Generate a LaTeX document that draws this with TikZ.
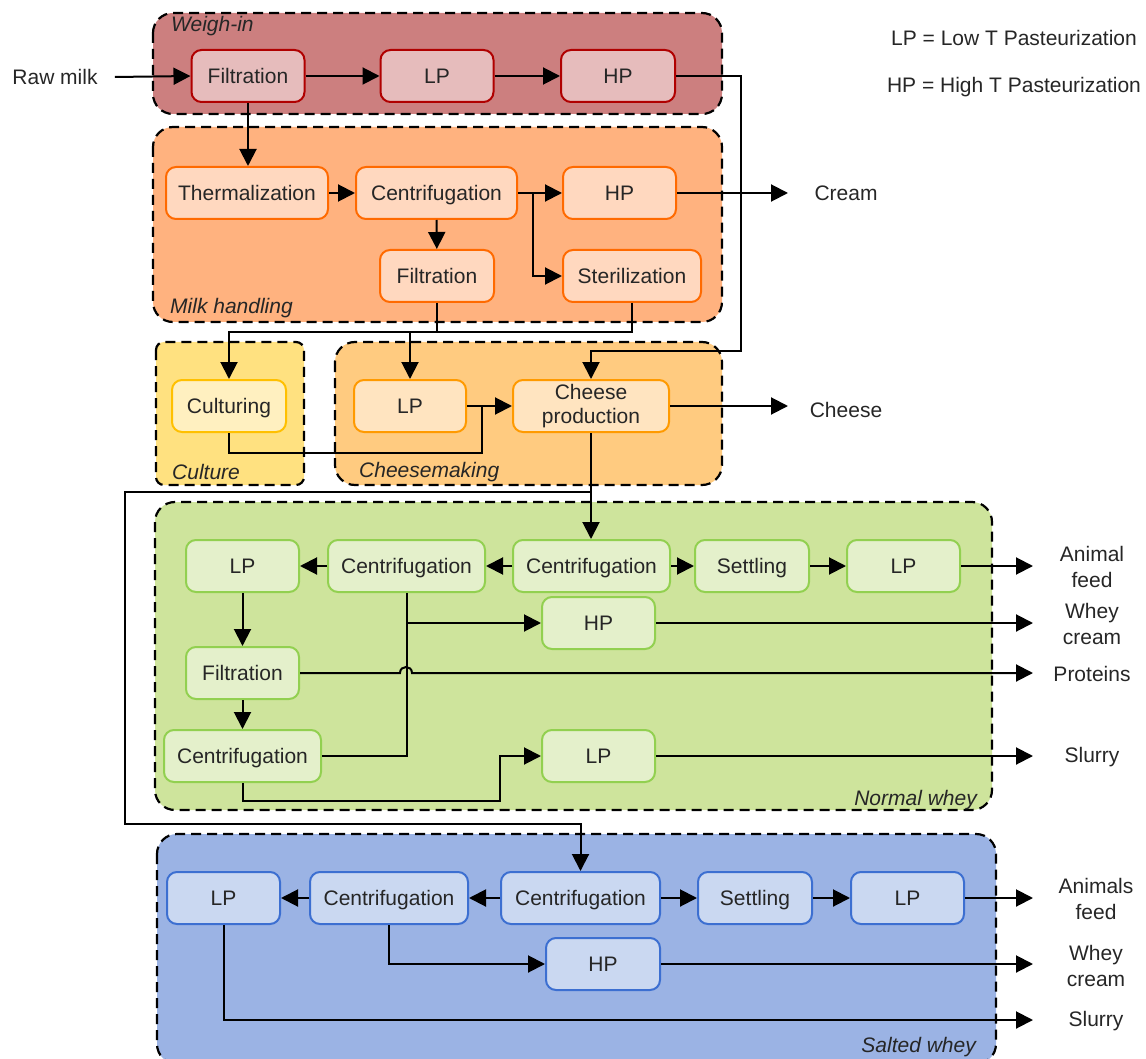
\documentclass[tikz,border=0pt]{standalone}
\usepackage{fontspec}
\setmainfont{Liberation Sans}
\usetikzlibrary{arrows.meta,calc}

% group and step colours
\definecolor{weighFill}{HTML}{CC7F7F}
\definecolor{weighNode}{HTML}{E6BCBC}
\definecolor{weighLine}{HTML}{B00000}
\definecolor{milkFill}{HTML}{FFB27F}
\definecolor{milkNode}{HTML}{FFD8BF}
\definecolor{milkLine}{HTML}{FF6A00}
\definecolor{cultFill}{HTML}{FFE180}
\definecolor{cultNode}{HTML}{FFF0C0}
\definecolor{cultLine}{HTML}{FFC000}
\definecolor{cheeseFill}{HTML}{FFCB80}
\definecolor{cheeseNode}{HTML}{FFE4C0}
\definecolor{cheeseLine}{HTML}{FF9A00}
\definecolor{normFill}{HTML}{CEE49C}
\definecolor{normNode}{HTML}{E4F0CB}
\definecolor{normLine}{HTML}{92D050}
\definecolor{saltFill}{HTML}{9BB3E4}
\definecolor{saltNode}{HTML}{CAD8F1}
\definecolor{saltLine}{HTML}{3C6FD1}
\definecolor{ink}{HTML}{262626}

\begin{document}
\begin{tikzpicture}[x=1pt,y=-1pt,
  font=\fontsize{21}{24}\selectfont,
  grp/.style={draw=black,line width=2.2pt,dash pattern=on 10pt off 6pt,rounded corners=20pt},
  box/.style={rectangle,rounded corners=10pt,line width=2pt,minimum height=52pt,
              inner sep=2pt,text=ink,align=center,text height=15pt,text depth=0pt},
  wbox/.style={box,fill=weighNode,draw=weighLine},
  mbox/.style={box,fill=milkNode,draw=milkLine},
  cbox/.style={box,fill=cultNode,draw=cultLine},
  kbox/.style={box,fill=cheeseNode,draw=cheeseLine},
  nbox/.style={box,fill=normNode,draw=normLine},
  sbox/.style={box,fill=saltNode,draw=saltLine},
  lbl/.style={text=ink,align=center,inner sep=0pt},
  glbl/.style={text=ink,inner sep=0pt,font=\fontsize{21}{24}\selectfont\itshape},
  arr/.style={line width=2pt,-{Triangle[length=17pt,width=17pt]}},
  ln/.style={line width=2pt}]

\useasboundingbox (0,0) rectangle (1146,1059);

% ---- process groups ----
\draw[grp,fill=weighFill] (153,13) rectangle (722,114);
\draw[grp,fill=milkFill] (153,127) rectangle (722,322);
\draw[grp,fill=cultFill,rounded corners=8pt] (156,342) rectangle (304,485);
\draw[grp,fill=cheeseFill] (335,342) rectangle (722,485);
\draw[grp,fill=normFill] (155,502) rectangle (992,810);
\draw[grp,fill=saltFill] (157,834) rectangle (996,1064);

\node[glbl,anchor=west] (gWeigh) at (171,26) {Weigh-in};
\node[glbl,anchor=west] (gMilk) at (170,308) {Milk handling};
\node[glbl,anchor=west] (gCult) at (172,472) {Culture};
\node[glbl,anchor=west] (gCheese) at (359,472) {Cheesemaking};
\node[glbl,anchor=east] (gNorm) at (977,800) {Normal whey};
\node[glbl,anchor=east] (gSalt) at (976,1047) {Salted whey};

% ---- legend ----
\node[lbl] (legLP) at (1014,38) {LP = Low T Pasteurization};
\node[lbl] (legHP) at (1014,87) {HP = High T Pasteurization};

% ---- weigh-in ----
\node[lbl] (raw) at (55,77) {Raw milk};
\node[wbox,minimum width=113pt] (wf) at (248,76) {Filtration};
\node[wbox,minimum width=113pt] (wlp) at (437,76) {LP};
\node[wbox,minimum width=114pt] (whp) at (618,76) {HP};

% ---- milk handling ----
\node[mbox,minimum width=162pt] (mth) at (247,193) {Thermalization};
\node[mbox,minimum width=161pt] (mce) at (436.5,193) {Centrifugation};
\node[mbox,minimum width=113pt] (mhp) at (619.5,193) {HP};
\node[mbox,minimum width=114pt] (mfi) at (437,276) {Filtration};
\node[mbox,minimum width=138pt] (mst) at (632,276) {Sterilization};
\node[lbl] (cream) at (846,193) {Cream};

% ---- culture and cheesemaking ----
\node[cbox,minimum width=114pt] (cul) at (229,406) {Culturing};
\node[kbox,minimum width=156pt] (cpr) at (591,406) {};
\node[lbl] (cprTxt) at (cpr.center) {Cheese\\production};
\node[kbox,minimum width=112pt] (clp) at (410,406) {LP};
\node[lbl] (cheese) at (846,410) {Cheese};

% ---- normal whey ----
\node[nbox,minimum width=113pt] (nlp1) at (242.5,566) {LP};
\node[nbox,minimum width=157pt] (nce2) at (406.5,566) {Centrifugation};
\node[nbox,minimum width=157pt] (nce1) at (591.5,566) {Centrifugation};
\node[nbox,minimum width=114pt] (nse) at (752,566) {Settling};
\node[nbox,minimum width=113pt] (nlp2) at (903.5,566) {LP};
\node[nbox,minimum width=113pt] (nhp) at (598.5,623) {HP};
\node[nbox,minimum width=113pt] (nfi) at (242.5,673) {Filtration};
\node[nbox,minimum width=157pt] (nce3) at (242.5,756) {Centrifugation};
\node[nbox,minimum width=113pt] (nlp3) at (598.5,756) {LP};

\node[lbl,font=\fontsize{21}{26}\selectfont] (nFeed) at (1092,567) {Animal\\feed};
\node[lbl,font=\fontsize{21}{26}\selectfont] (nCream) at (1092,624) {Whey\\cream};
\node[lbl] (nProt) at (1092,674) {Proteins};
\node[lbl] (nSlur) at (1092,757) {Slurry};

% ---- salted whey ----
\node[sbox,minimum width=113pt] (slp1) at (223.5,898) {LP};
\node[sbox,minimum width=158pt] (sce2) at (389,898) {Centrifugation};
\node[sbox,minimum width=159pt] (sce1) at (580.5,898) {Centrifugation};
\node[sbox,minimum width=114pt] (sse) at (755,898) {Settling};
\node[sbox,minimum width=113pt] (slp2) at (907.5,898) {LP};
\node[sbox,minimum width=114pt] (shp) at (603,964) {HP};

\node[lbl,font=\fontsize{21}{26}\selectfont] (sFeed) at (1096,899) {Animals\\feed};
\node[lbl,font=\fontsize{21}{26}\selectfont] (sCream) at (1096,966) {Whey\\cream};
\node[lbl] (sSlur) at (1096,1021) {Slurry};

% free ends of the output arrows
\coordinate (oCream) at (788,193);
\coordinate (oCheese) at (788,406);
\coordinate (oNFeed) at (1033,566);
\coordinate (oNCream) at (1033,623);
\coordinate (oNProt) at (1033,673);
\coordinate (oNSlur) at (1033,756);
\coordinate (oSFeed) at (1033,898);
\coordinate (oSCream) at (1033,964);
\coordinate (oSSlur) at (1033,1020);

% ---- connectors: weigh-in ----
\draw[arr] ([xshift=17pt]raw.east) -- (wf.west);
\draw[arr] (wf) -- (wlp);
\draw[arr] (wlp) -- (whp);
\draw[arr] (whp.east) -| (741,351) -| (cpr.north);
\draw[arr] (wf.south) -- (wf.south |- mth.north);

% ---- connectors: milk handling ----
\draw[arr] (mth) -- (mce);
\draw[arr] (mce) -- (mhp);
\draw[arr] (mce.east) -- ++(15,0) |- (mst.west);
\draw[arr] (mce) -- (mfi);
\draw[arr] (mhp.east) -- (oCream);
\draw[ln] (mfi.south) -- (mfi.south |- 0,332);
\draw[arr] (mst.south) -- (mst.south |- 0,332) -| (cul.north);
\draw[arr] (clp.north |- 0,332) -- (clp.north);

% ---- connectors: cheesemaking ----
\draw[arr] (clp) -- (cpr);
\draw[ln] (cul.south) -- ++(0,20) -| (482,406);
\draw[arr] (cpr.east) -- (oCheese);
\draw[arr] (cpr.south) -- (cpr.south |- nce1.north);
\draw[arr] (cpr.south |- 0,492) -| (125,824) -| (sce1.north);

% ---- connectors: normal whey ----
\draw[arr] (nce1) -- (nce2);
\draw[arr] (nce2) -- (nlp1);
\draw[arr] (nce1) -- (nse);
\draw[arr] (nse) -- (nlp2);
\draw[arr] (nlp2.east) -- (oNFeed);
\draw[arr] (nlp1) -- (nfi);
\draw[arr] (nfi) -- (nce3);
\draw[ln] (nce2.south) -- (nce2.south |- nce3.east) -- (nce3.east);
\draw[arr] (nce2.south |- nhp.west) -- (nhp.west);
\draw[arr] (nhp.east) -- (oNCream);
\draw[arr] (nfi.east) -- (400,673) .. controls (400,665) and (412,665) .. (412,673) -- (oNProt);
\draw[arr] (nce3.south) -- ++(0,18) -| (500,756) -- (nlp3.west);
\draw[arr] (nlp3.east) -- (oNSlur);

% ---- connectors: salted whey ----
\draw[arr] (sce1) -- (sce2);
\draw[arr] (sce2) -- (slp1);
\draw[arr] (sce1) -- (sse);
\draw[arr] (sse) -- (slp2);
\draw[arr] (slp2.east) -- (oSFeed);
\draw[arr] (sce2.south) |- (shp.west);
\draw[arr] (shp.east) -- (oSCream);
\draw[arr] (slp1.south) |- (oSSlur);
\end{tikzpicture}
\end{document}
